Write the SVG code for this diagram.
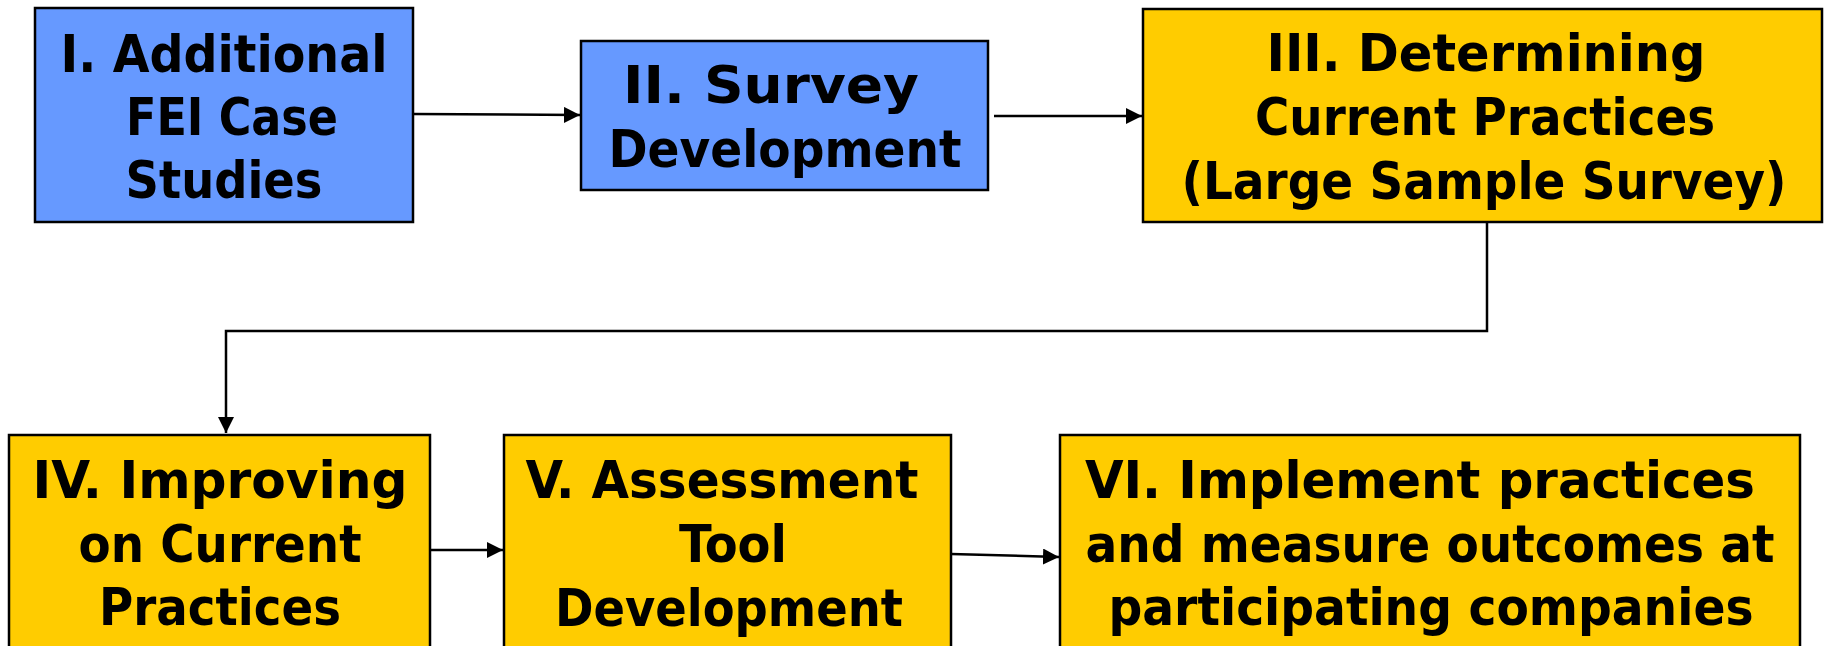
<svg xmlns="http://www.w3.org/2000/svg" width="1825" height="646" viewBox="0 0 1825 646">
<style>
.blue{fill:#6699FF;stroke:#000;stroke-width:2.5}
.yellow{fill:#FFCC00;stroke:#000;stroke-width:2.5}
.t{font-family:"DejaVu Sans Condensed","DejaVu Sans",sans-serif;font-stretch:condensed;font-weight:bold;font-size:52px;fill:#000;text-anchor:middle}
.c{fill:none;stroke:#000;stroke-width:2.5}
</style>
<defs>
<marker id="ah" markerUnits="userSpaceOnUse" markerWidth="18" markerHeight="16" refX="16" refY="8" orient="auto">
<path d="M0,0 L16,8 L0,16 Z" fill="#000"/>
</marker>
</defs>
<rect width="1825" height="646" fill="#fff"/>
<g id="connectors">
<path class="c" d="M413,114 L580,115" marker-end="url(#ah)"/>
<path class="c" d="M994,116 L1142,116" marker-end="url(#ah)"/>
<path class="c" d="M1487,222 V331 H226 V433" marker-end="url(#ah)"/>
<path class="c" d="M430,550 L503,550" marker-end="url(#ah)"/>
<path class="c" d="M951,554 L1059,557" marker-end="url(#ah)"/>
</g>
<g id="node1">
<rect class="blue" x="35" y="8" width="378" height="214"/>
<text class="t" x="224" y="72" textLength="327" lengthAdjust="spacingAndGlyphs">I. Additional</text>
<text class="t" x="232" y="135" textLength="212" lengthAdjust="spacingAndGlyphs">FEI Case</text>
<text class="t" x="224" y="198" textLength="197" lengthAdjust="spacingAndGlyphs">Studies</text>
</g>
<g id="node2">
<rect class="blue" x="581" y="41" width="407" height="149"/>
<text class="t" x="771" y="103" textLength="296" lengthAdjust="spacingAndGlyphs">II. Survey</text>
<text class="t" x="785" y="167" textLength="353" lengthAdjust="spacingAndGlyphs">Development</text>
</g>
<g id="node3">
<rect class="yellow" x="1143" y="9" width="679" height="213"/>
<text class="t" x="1486" y="71" textLength="439" lengthAdjust="spacingAndGlyphs">III. Determining</text>
<text class="t" x="1485" y="135" textLength="460" lengthAdjust="spacingAndGlyphs">Current Practices</text>
<text class="t" x="1484" y="199" textLength="605" lengthAdjust="spacingAndGlyphs">(Large Sample Survey)</text>
</g>
<g id="node4">
<rect class="yellow" x="9" y="435" width="421" height="215"/>
<text class="t" x="220" y="498" textLength="375" lengthAdjust="spacingAndGlyphs">IV. Improving</text>
<text class="t" x="220" y="562" textLength="283" lengthAdjust="spacingAndGlyphs">on Current</text>
<text class="t" x="220" y="625" textLength="242" lengthAdjust="spacingAndGlyphs">Practices</text>
</g>
<g id="node5">
<rect class="yellow" x="504" y="435" width="447" height="215"/>
<text class="t" x="722" y="498" textLength="393" lengthAdjust="spacingAndGlyphs">V. Assessment</text>
<text class="t" x="733" y="562" textLength="108" lengthAdjust="spacingAndGlyphs">Tool</text>
<text class="t" x="729" y="626" textLength="348" lengthAdjust="spacingAndGlyphs">Development</text>
</g>
<g id="node6">
<rect class="yellow" x="1060" y="435" width="740" height="215"/>
<text class="t" x="1420" y="498" textLength="670" lengthAdjust="spacingAndGlyphs">VI. Implement practices</text>
<text class="t" x="1430" y="562" textLength="689" lengthAdjust="spacingAndGlyphs">and measure outcomes at</text>
<text class="t" x="1431" y="625" textLength="645" lengthAdjust="spacingAndGlyphs">participating companies</text>
</g>
</svg>
